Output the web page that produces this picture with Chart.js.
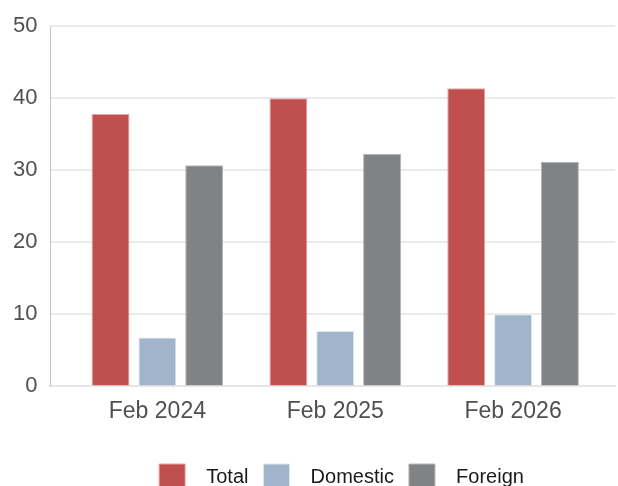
<!DOCTYPE html>
<html>
<head>
<meta charset="utf-8">
<script src="https://cdn.jsdelivr.net/npm/chart.js@4/dist/chart.umd.min.js"></script>
<style>
  html, body { margin: 0; padding: 0; background: #fff; overflow: hidden; }
  #wrap { width: 618px; height: 500px; position: relative; }
</style>
</head>
<body>
<div id="wrap"><canvas id="chart"></canvas></div>
<script>
// categories and series values
const categories = ["Feb 2024", "Feb 2025", "Feb 2026"];
const seriesNames = ["Total", "Domestic", "Foreign"];
const totalValues = [37.8, 40.0, 41.4];
const domesticValues = [6.8, 7.7, 10.0];
const foreignValues = [30.7, 32.3, 31.2];
const yTicks = [0, 10, 20, 30, 40, 50];

const fontFamily = 'Liberation Sans, Arial, sans-serif';

function points(values) {
    return values.map((v, i) => ({ x: i, y: v }));
}

// the legend in the original sits a bit right of centre
const legendShift = {
    id: 'legendShift',
    afterLayout(chart) {
        chart.legend.left += 34;
        chart.legend.right += 34;
    }
};

const ctx = document.getElementById('chart').getContext('2d');
new Chart(ctx, {
    type: 'bar',
    data: {
        datasets: [
            { label: seriesNames[0], data: points(totalValues), backgroundColor: '#c0504d', borderColor: '#e6a5a3', borderWidth: 1 },
            { label: seriesNames[1], data: points(domesticValues), backgroundColor: '#a0b4ca', borderColor: '#dfe7f0', borderWidth: 1 },
            { label: seriesNames[2], data: points(foreignValues), backgroundColor: '#808285', borderColor: '#b4b5b7', borderWidth: 1 }
        ]
    },
    plugins: [legendShift],
    options: {
        responsive: true,
        maintainAspectRatio: false,
        animation: false,
        devicePixelRatio: 1,
        categoryPercentage: 0.79,
        barPercentage: 0.81,
        layout: { padding: { top: 11, right: 3, left: 0, bottom: 0 } },
        plugins: {
            tooltip: { enabled: false },
            legend: {
                position: 'bottom',
                labels: {
                    font: { family: fontFamily, size: 20 },
                    color: '#1a1a1a',
                    boxWidth: 26,
                    boxHeight: 26,
                    padding: 15,
                    // small extra gap between swatch and text, as in the original
                    generateLabels: chart => Chart.defaults.plugins.legend.labels.generateLabels(chart)
                        .map(item => Object.assign(item, { text: '  ' + item.text }))
                }
            }
        },
        scales: {
            x: {
                type: 'linear',
                min: -0.601,
                max: 2.573,
                offset: false,
                afterBuildTicks: axis => { axis.ticks = categories.map((c, i) => ({ value: i })); },
                afterFit: axis => { axis.height += 21; },
                ticks: {
                    callback: v => categories[v],
                    font: { family: fontFamily, size: 23 },
                    color: '#505050',
                    padding: 3
                },
                grid: { display: false },
                border: { display: true, color: '#e6e6e6', width: 2 }
            },
            y: {
                min: 0,
                max: 50,
                afterBuildTicks: axis => { axis.ticks = yTicks.map(v => ({ value: v })); },
                ticks: {
                    font: { family: fontFamily, size: 22 },
                    color: '#505050',
                    padding: 13
                },
                grid: { color: '#ebebeb', lineWidth: 2, drawTicks: false },
                border: { display: true, color: '#c4c4c4', width: 1 }
            }
        }
    }
});
</script>
</body>
</html>
